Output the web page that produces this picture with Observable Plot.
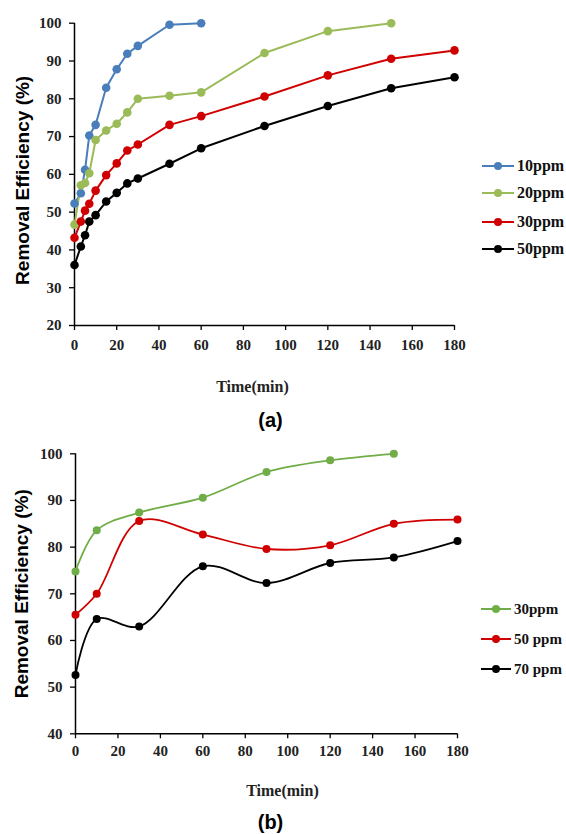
<!DOCTYPE html>
<html><head><meta charset="utf-8">
<script src="https://cdn.jsdelivr.net/npm/d3@7"></script>
<script src="https://cdn.jsdelivr.net/npm/@observablehq/plot@0.6"></script>
<style>
body{margin:0;background:#fff;}
#wrap{position:relative;width:566px;height:834px;overflow:hidden;background:#fff;}
.chart{position:absolute;left:0;}
.legend{position:absolute;left:0;top:0;font-family:"Liberation Serif", serif;font-weight:bold;white-space:nowrap;color:#111;}
.item{position:absolute;height:20px;display:flex;align-items:center;}
.item svg{display:block;margin-right:3px;}
</style></head>
<body><div id="wrap"></div>
<script>
// ---- Data (a) ----
const timeA = [0, 3, 5, 7, 10, 15, 20, 25, 30, 45, 60, 90, 120, 150, 180];
const seriesA = ["10ppm", "20ppm", "30ppm", "50ppm"];
const ppm10 = [52.3, 55.0, 61.2, 70.3, 73.1, 82.9, 87.8, 91.9, 94.0, 99.6, 100];
const ppm20 = [46.7, 57.1, 57.7, 60.3, 69.1, 71.6, 73.4, 76.4, 80.0, 80.8, 81.7, 92.1, 97.9, 100];
const ppm30 = [43.2, 47.5, 50.4, 52.2, 55.7, 59.8, 62.9, 66.3, 67.9, 73.1, 75.4, 80.6, 86.2, 90.6, 92.8];
const ppm50 = [36.0, 40.9, 43.9, 47.5, 49.2, 52.8, 55.1, 57.6, 58.9, 62.8, 66.9, 72.8, 78.1, 82.8, 85.7];
const colorsA = ["#4a7ebb", "#9bbb59", "#d00000", "#000000"];
const xTicks = [0, 20, 40, 60, 80, 100, 120, 140, 160, 180];
const yTicksA = [20, 30, 40, 50, 60, 70, 80, 90, 100];

// ---- Data (b) ----
const timeB = [0, 10, 30, 60, 90, 120, 150, 180];
const seriesB = ["30ppm", "50 ppm", "70 ppm"];
const b30 = [74.8, 83.6, 87.4, 90.6, 96.1, 98.6, 100];
const b50 = [65.5, 70.0, 85.6, 82.7, 79.6, 80.4, 85.0, 85.9];
const b70 = [52.6, 64.6, 63.0, 75.9, 72.3, 76.6, 77.8, 81.3];
const colorsB = ["#70ad47", "#d00000", "#000000"];
const yTicksB = [40, 50, 60, 70, 80, 90, 100];

const yTitle = "Removal Efficiency (%)";
const xTitle = "Time(min)";

function longForm(times, names, arrays) {
  const out = [];
  names.forEach((s, i) => arrays[i].forEach((v, j) => out.push({s, t: times[j], v})));
  return out;
}
const dataA = longForm(timeA, seriesA, [ppm10, ppm20, ppm30, ppm50]);
const dataB = longForm(timeB, seriesB, [b30, b50, b70]);

const serif = "Liberation Serif, Times New Roman, serif";
const sans = "Liberation Sans, Arial, sans-serif";

function makeChart(cfg) {
  return Plot.plot({
    width: 566, height: cfg.height,
    marginTop: cfg.mt, marginBottom: cfg.mb, marginLeft: cfg.ml, marginRight: cfg.mr,
    style: {background: "transparent", overflow: "visible"},
    x: {domain: [0, 180]},
    y: {domain: cfg.yDomain},
    color: {domain: cfg.series, range: cfg.colors},
    marks: [
      Plot.axisX({ticks: xTicks, tickSize: 5, tickPadding: cfg.xPad, label: null, fontSize: 15, fontWeight: "bold", fontFamily: serif, stroke: "#000", fill: "#222", strokeWidth: 1.3}),
      Plot.axisY({ticks: cfg.yTicks, tickSize: 5, tickPadding: 8, label: null, fontSize: 15, fontWeight: "bold", fontFamily: serif, stroke: "#000", fill: "#222", strokeWidth: 1.3}),
      Plot.ruleY([cfg.yDomain[0]], {stroke: "#000", strokeWidth: 1.5}),
      Plot.ruleX([0], {stroke: "#000", strokeWidth: 1.5}),
      Plot.line(cfg.data, {x: "t", y: "v", z: "s", stroke: "s", strokeWidth: cfg.sw, curve: cfg.curve}),
      Plot.dot(cfg.data, {x: "t", y: "v", fill: "s", r: cfg.r}),
      Plot.text([yTitle], {frameAnchor: "left", textAnchor: "middle", lineAnchor: "middle", rotate: -90, dx: cfg.yTitleDx, dy: cfg.yTitleDy, fontSize: 19, fontWeight: "bold", fontFamily: sans, fill: "#000"}),
      Plot.text([xTitle], {frameAnchor: "bottom", textAnchor: "middle", lineAnchor: "middle", dx: cfg.xTitleDx, dy: cfg.xTitleDy, fontSize: 16, fontWeight: "bold", fontFamily: serif, fill: "#222"}),
      Plot.text([cfg.caption], {frameAnchor: "bottom", textAnchor: "middle", lineAnchor: "middle", dx: cfg.capDx, dy: cfg.capDy, fontSize: 20, fontWeight: "bold", fontFamily: sans, fill: "#000"})
    ]
  });
}

const wrap = document.getElementById("wrap");

const chartA = makeChart({
  height: 430, mt: 22.7, mb: 105, ml: 74, mr: 112,
  yDomain: [20, 100], yTicks: yTicksA, series: seriesA, colors: colorsA, data: dataA,
  sw: 2, r: 4.3, curve: "linear", xPad: 9,
  yTitleDx: -52, yTitleDy: 6, xTitleDx: -12, xTitleDy: 61, caption: "(a)", capDx: 6, capDy: 95
});
chartA.classList.add("chart");
chartA.style.top = "0px";
wrap.appendChild(chartA);

const chartB = makeChart({
  height: 404, mt: 23.3, mb: 100.7, ml: 75, mr: 109,
  yDomain: [40, 100], yTicks: yTicksB, series: seriesB, colors: colorsB, data: dataB,
  sw: 1.8, r: 4, curve: "catmull-rom", xPad: 7,
  yTitleDx: -54, yTitleDy: 0, xTitleDx: 16, xTitleDy: 57, caption: "(b)", capDx: 4, capDy: 89
});
chartB.classList.add("chart");
chartB.style.top = "430px";
wrap.appendChild(chartB);

function legend(names, colors, x, ys, lineW, fontSize) {
  const box = document.createElement("div");
  box.className = "legend";
  box.style.fontSize = fontSize + "px";
  names.forEach((n, i) => {
    const it = document.createElement("div");
    it.className = "item";
    it.style.left = x + "px";
    it.style.top = (ys[i] - 10) + "px";
    it.innerHTML = `<svg width="${lineW}" height="12"><line x1="0" x2="${lineW}" y1="6" y2="6" stroke="${colors[i]}" stroke-width="2"/><circle cx="${lineW/2}" cy="6" r="4" fill="${colors[i]}"/></svg><span>${n}</span>`;
    box.appendChild(it);
  });
  wrap.appendChild(box);
}
legend(seriesA, colorsA, 482, [166, 193, 222, 249], 32, 16);
legend(seriesB, colorsB, 481, [609, 639, 669], 30, 15);
</script>
</body></html>
